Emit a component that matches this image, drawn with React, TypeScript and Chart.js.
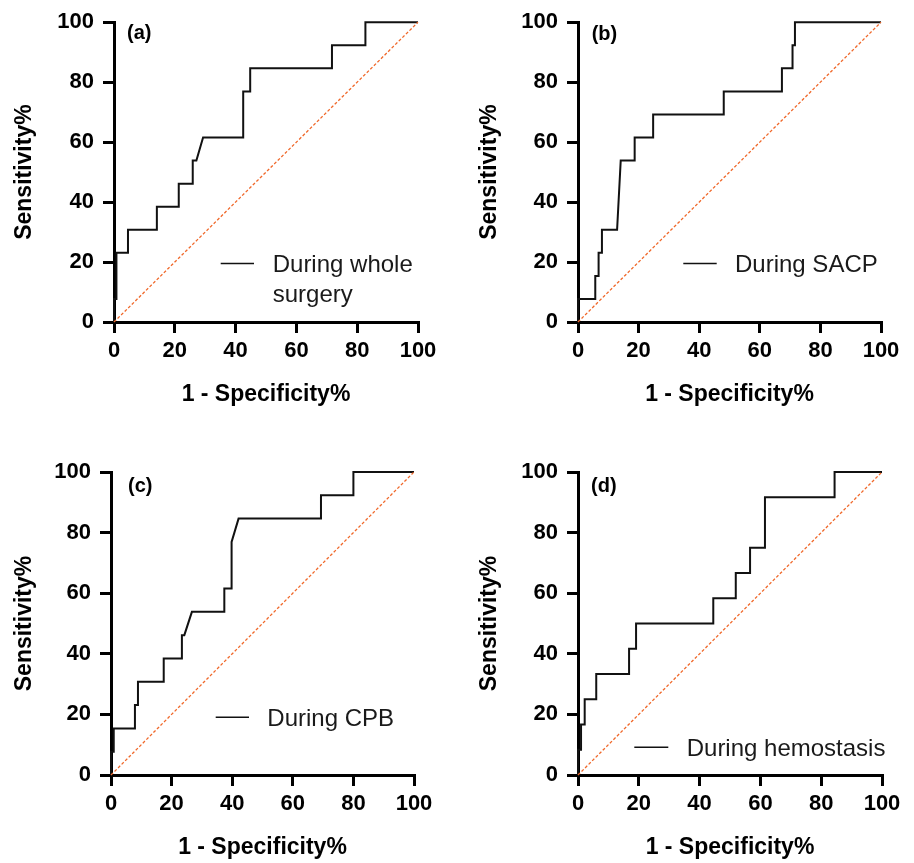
import React, { useEffect, useRef } from "react";
import { Chart, registerables } from "chart.js";

Chart.register(...registerables);

// ---------- data ----------
const tickValues = [0, 20, 40, 60, 80, 100];
const xTitle = "1 - Specificity%";
const yTitle = "Sensitivity%";
const diagX = [0, 100];
const diagY = [0, 100];

// (a) During whole surgery
const fprA = [0, 0, 0.8, 0.8, 4.6, 4.6, 14.1, 14.1, 21.3, 21.3, 25.9, 25.9, 27.1, 29.3, 42.5, 42.5, 44.8, 44.8, 71.7, 71.7, 82.7, 82.7, 100];
const sensA = [0, 7.69, 7.69, 23.08, 23.08, 30.77, 30.77, 38.46, 38.46, 46.15, 46.15, 53.85, 53.85, 61.54, 61.54, 76.92, 76.92, 84.62, 84.62, 92.31, 92.31, 100, 100];

// (b) During SACP
const fprB = [0, 0, 5.7, 5.7, 6.8, 6.8, 7.9, 7.9, 12.9, 14.1, 18.7, 18.7, 24.8, 24.8, 48.1, 48.1, 67.3, 67.3, 70.8, 70.8, 71.6, 71.6, 100];
const sensB = [0, 7.69, 7.69, 15.38, 15.38, 23.08, 23.08, 30.77, 30.77, 53.85, 53.85, 61.54, 61.54, 69.23, 69.23, 76.92, 76.92, 84.62, 84.62, 92.31, 92.31, 100, 100];

// (c) During CPB
const fprC = [0, 0, 0.9, 0.9, 7.9, 7.9, 8.9, 8.9, 17.4, 17.4, 23.4, 23.4, 24.2, 26.7, 37.4, 37.4, 39.8, 39.8, 42.1, 69.3, 69.3, 80.0, 80.0, 100];
const sensC = [0, 7.69, 7.69, 15.38, 15.38, 23.08, 23.08, 30.77, 30.77, 38.46, 38.46, 46.15, 46.15, 53.85, 53.85, 61.54, 61.54, 76.92, 84.62, 84.62, 92.31, 92.31, 100, 100];

// (d) During hemostasis
const fprD = [0, 0, 1.0, 1.0, 2.2, 2.2, 6.0, 6.0, 16.8, 16.8, 19.1, 19.1, 44.5, 44.5, 51.9, 51.9, 56.6, 56.6, 61.5, 61.5, 84.4, 84.4, 100];
const sensD = [0, 8.33, 8.33, 16.67, 16.67, 25, 25, 33.33, 33.33, 41.67, 41.67, 50, 50, 58.33, 58.33, 66.67, 66.67, 75, 75, 91.67, 91.67, 100, 100];

const panelLabels = ["(a)", "(b)", "(c)", "(d)"];
const legendA = ["During whole", "surgery"];
const legendB = ["During SACP"];
const legendC = ["During CPB"];
const legendD = ["During hemostasis"];

// ---------- style / layout ----------
const FONT = '"Liberation Sans", Arial, Helvetica, sans-serif';
const TICK_SIZE = 22;
const TITLE_SIZE = 23;

type Geo = {
  left: number; top: number; w: number; h: number;
  cl: number; ct: number; cr: number; cb: number;
  yTitlePad: number; xTitlePad: number;
  deco: any;
};

const panels: { xs: number[]; ys: number[]; geo: Geo }[] = [
  {
    xs: fprA, ys: sensA,
    geo: {
      left: 0, top: 0, w: 457, h: 430, cl: 114, ct: 17, cr: 418, cb: 322,
      yTitlePad: 11.2, xTitlePad: 21.2,
      deco: { label: panelLabels[0], labelX: 13, labelY: 17, lx1: 106.7, lx2: 140, ly: 241.3, tx: 158.7, lines: legendA },
    },
  },
  {
    xs: fprB, ys: sensB,
    geo: {
      left: 457, top: 0, w: 457, h: 430, cl: 578, ct: 17, cr: 881, cb: 322,
      yTitlePad: 19.2, xTitlePad: 21.2,
      deco: { label: panelLabels[1], labelX: 13.7, labelY: 18, lx1: 105.3, lx2: 138.7, ly: 241.3, tx: 157, lines: legendB },
    },
  },
  {
    xs: fprC, ys: sensC,
    geo: {
      left: 0, top: 430, w: 457, h: 433, cl: 111, ct: 472, cr: 414, cb: 775,
      yTitlePad: 11.2, xTitlePad: 1.2,
      deco: { label: panelLabels[2], labelX: 17, labelY: 20, lx1: 104.7, lx2: 138, ly: 245.3, tx: 156.3, lines: legendC },
    },
  },
  {
    xs: fprD, ys: sensD,
    geo: {
      left: 457, top: 430, w: 457, h: 433, cl: 578, ct: 472, cr: 882, cb: 775,
      yTitlePad: 19.2, xTitlePad: 1.2,
      deco: { label: panelLabels[3], labelX: 13, labelY: 20, lx1: 56.3, lx2: 90.3, ly: 275.3, tx: 108.7, lines: legendD },
    },
  },
];

const decorPlugin = {
  id: "panelDecor",
  afterDatasetsDraw(chart: any, _args: any, opts: any) {
    if (!opts || !opts.label) return;
    const { ctx, chartArea } = chart;
    const l = chartArea.left;
    const t = chartArea.top;
    ctx.save();
    ctx.fillStyle = "#000";
    ctx.textAlign = "left";
    ctx.textBaseline = "alphabetic";
    ctx.font = `bold 20px ${FONT}`;
    ctx.fillText(opts.label, l + opts.labelX, t + opts.labelY);
    ctx.strokeStyle = "#111";
    ctx.lineWidth = 1.5;
    ctx.beginPath();
    ctx.moveTo(l + opts.lx1, t + opts.ly);
    ctx.lineTo(l + opts.lx2, t + opts.ly);
    ctx.stroke();
    ctx.font = `24px ${FONT}`;
    ctx.fillStyle = "#1a1a1a";
    const lines: string[] = opts.lines || [];
    for (let i = 0; i < lines.length; i++) {
      ctx.fillText(lines[i], l + opts.tx, t + opts.ly + 8.6 + i * 30);
    }
    ctx.restore();
  },
};

function axisCommon(isX: boolean, geo: Geo) {
  return {
    type: "linear" as const,
    min: 0,
    max: 100,
    afterBuildTicks: (s: any) => {
      s.ticks = tickValues.map((v) => ({ value: v }));
    },
    afterFit: (s: any) => {
      if (isX) s.height = geo.h - (geo.cb - geo.top);
      else s.width = geo.cl - geo.left;
    },
    border: { display: true, color: "#000", width: 3 },
    grid: {
      display: true,
      drawOnChartArea: false,
      drawTicks: true,
      tickLength: 11,
      color: "#000",
      tickColor: "#000",
      lineWidth: 3,
      tickWidth: 3,
    },
    ticks: {
      color: "#000",
      padding: isX ? 5 : 9,
      font: { family: FONT, size: TICK_SIZE, weight: "bold" as const },
      callback: (v: any) => String(v),
    },
    title: {
      display: true,
      text: isX ? xTitle : yTitle,
      color: "#000",
      font: { family: FONT, size: TITLE_SIZE, weight: "bold" as const },
      padding: isX ? { top: 0, bottom: geo.xTitlePad } : { top: geo.yTitlePad, bottom: 0 },
    },
  };
}

function Panel({ xs, ys, geo }: { xs: number[]; ys: number[]; geo: Geo }) {
  const ref = useRef<HTMLCanvasElement | null>(null);
  useEffect(() => {
    if (!ref.current) return;
    const chart = new Chart(ref.current, {
      type: "line",
      data: {
        datasets: [
          {
            data: diagX.map((x, i) => ({ x, y: diagY[i] })),
            borderColor: "#F0682A",
            borderWidth: 1.3,
            borderDash: [3, 2],
            pointRadius: 0,
            fill: false,
            tension: 0,
            clip: false as any,
          },
          {
            data: xs.map((x, i) => ({ x, y: ys[i] })),
            borderColor: "#111",
            borderWidth: 2,
            pointRadius: 0,
            fill: false,
            tension: 0,
            clip: false as any,
          },
        ],
      },
      options: {
        responsive: false,
        animation: false,
        devicePixelRatio: 1,
        layout: {
          padding: {
            left: 0,
            top: geo.ct - geo.top,
            right: geo.left + geo.w - geo.cr,
            bottom: 0,
          },
        },
        scales: {
          x: axisCommon(true, geo) as any,
          y: axisCommon(false, geo) as any,
        },
        plugins: {
          legend: { display: false },
          tooltip: { enabled: false },
          panelDecor: geo.deco,
        } as any,
      },
      plugins: [decorPlugin as any],
    });
    return () => chart.destroy();
  }, [xs, ys, geo]);
  return (
    <canvas
      ref={ref}
      width={geo.w}
      height={geo.h}
      style={{ position: "absolute", left: geo.left, top: geo.top, width: geo.w, height: geo.h, display: "block" }}
    />
  );
}

export default function App() {
  return (
    <div
      style={{
        position: "absolute",
        left: 0,
        top: 0,
        width: 914,
        height: 863,
        overflow: "hidden",
        background: "#fff",
      }}
    >
      {panels.map((p, i) => (
        <Panel key={i} xs={p.xs} ys={p.ys} geo={p.geo} />
      ))}
    </div>
  );
}
